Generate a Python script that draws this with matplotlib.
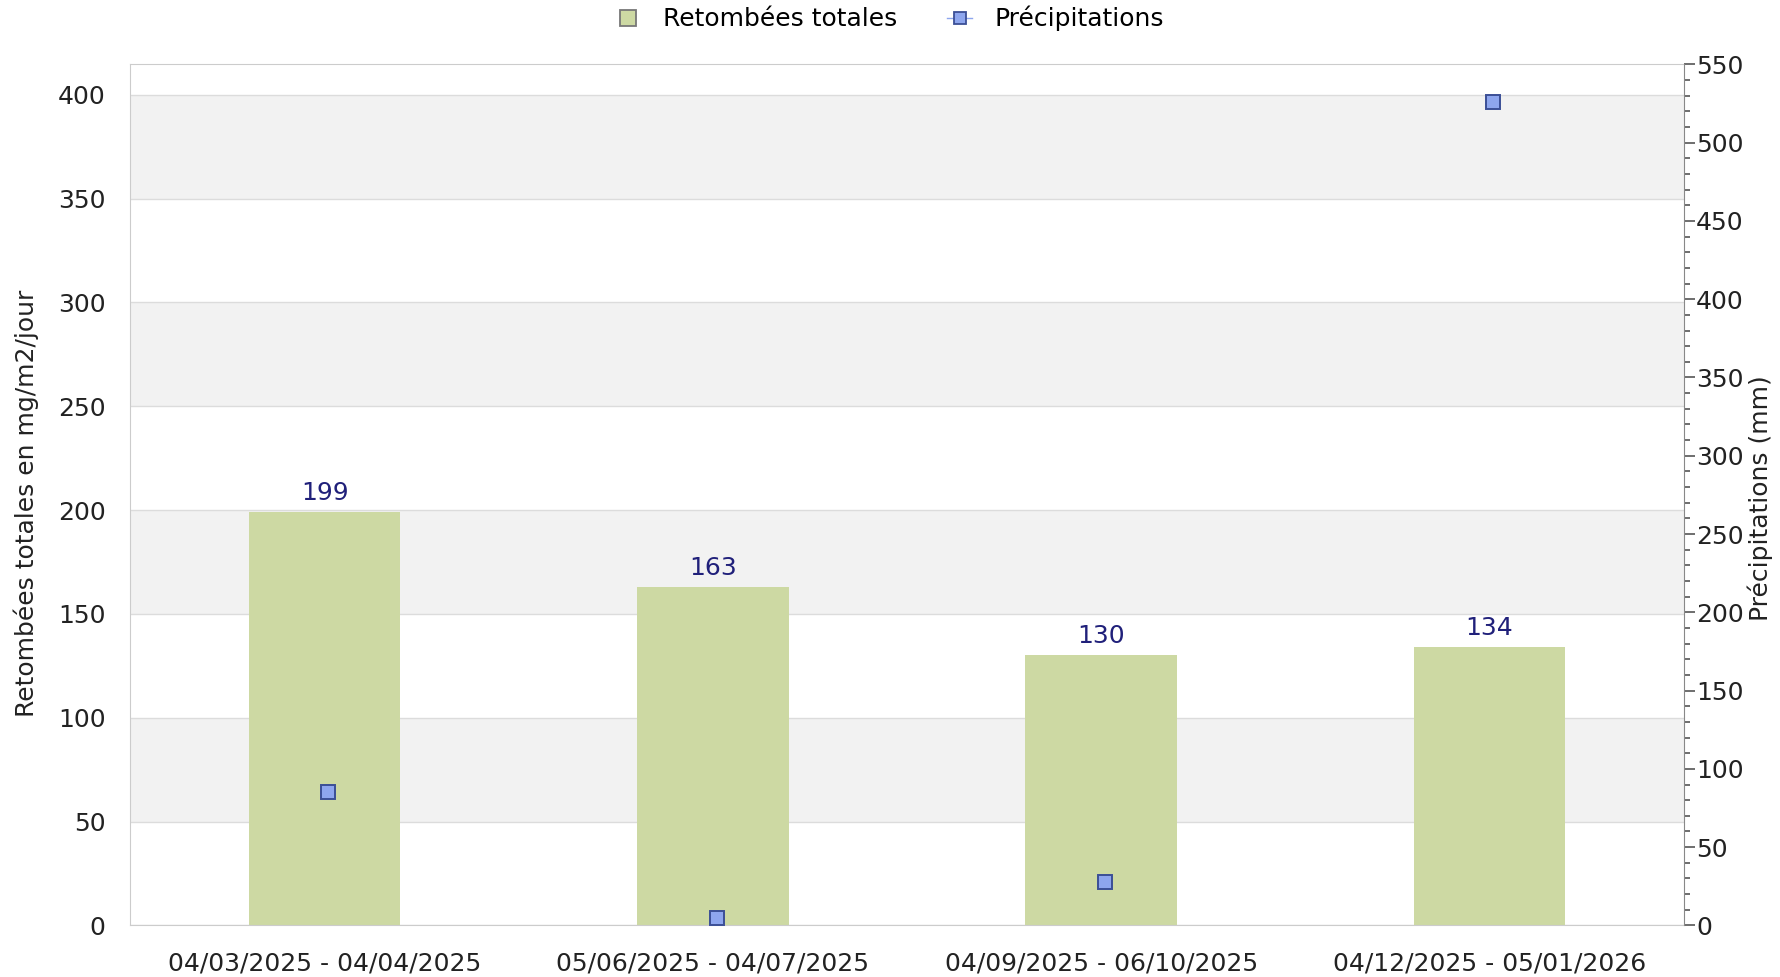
import matplotlib
matplotlib.use("Agg")
import matplotlib.pyplot as plt
from matplotlib.lines import Line2D
from matplotlib.ticker import MultipleLocator

categories = ["04/03/2025 - 04/04/2025", "05/06/2025 - 04/07/2025",
              "04/09/2025 - 06/10/2025", "04/12/2025 - 05/01/2026"]
retombees = [199, 163, 130, 134]
precipitations = [85, 4.5, 27.5, 526]
left_ticks = [0, 50, 100, 150, 200, 250, 300, 350, 400]
right_ticks = [0, 50, 100, 150, 200, 250, 300, 350, 400, 450, 500, 550]

plt.rcParams['font.family'] = ['DejaVu Sans']
FS = 18

fig = plt.figure(figsize=(17.8, 9.77), dpi=100)
ax = fig.add_axes([0.0733, 0.0528, 0.8725, 0.8813])
ax2 = ax.twinx()

# bands and grid
for lo in [50, 150, 250, 350]:
    ax.axhspan(lo, lo + 50, color='#f2f2f2', zorder=0, lw=0)
for t in left_ticks:
    ax.axhline(t, color='#dcdcdc', lw=1, zorder=0.5)

x = list(range(len(categories)))
bars = ax.bar(x, retombees, width=0.39, color='#cdd9a3', zorder=2)
ax.bar_label(bars, labels=[str(v) for v in retombees], padding=5,
             color='#20207a', fontsize=FS)

ax.set_xlim(-0.5, len(categories) - 0.5)
ax.set_ylim(0, 414.6)
ax.set_yticks(left_ticks)
ax.set_xticks(x)
ax.set_xticklabels(categories, fontsize=FS, color='#222222')
ax.tick_params(axis='y', length=0, labelsize=FS, labelcolor='#222222', pad=18)
ax.tick_params(axis='x', length=0, pad=19)
ax.set_ylabel("Retombées totales en mg/m2/jour", fontsize=FS, color='#222222')
ax.yaxis.set_label_coords(-0.0592, 0.49)
for s in ['left', 'top', 'bottom']:
    ax.spines[s].set_color('#cccccc')
ax.spines['right'].set_visible(False)

ax2.plot([xi + 0.01 for xi in x], precipitations, linestyle='none', marker='s',
         markersize=10, markerfacecolor='#8ea6ee', markeredgecolor='#3b4f96',
         markeredgewidth=1.4, zorder=5)
ax2.set_ylim(0, 550)
ax2.set_yticks(right_ticks)
ax2.yaxis.set_minor_locator(MultipleLocator(10))
ax2.tick_params(axis='y', which='major', length=8, width=1.2, color='#555555',
                labelsize=FS, labelcolor='#222222', pad=1)
ax2.tick_params(axis='y', which='minor', length=4, width=1.2, color='#555555')
for s in ['left', 'top', 'bottom']:
    ax2.spines[s].set_visible(False)
ax2.spines['right'].set_color('#888888')
ax2.set_ylabel("Précipitations (mm)", fontsize=FS, color='#222222')
ax2.yaxis.set_label_coords(1.0415, 0.496)
ax.set_zorder(ax2.get_zorder() - 1)
ax.patch.set_visible(True)
ax2.patch.set_visible(False)

handles = [
    Line2D([0], [0], linestyle='none', marker='s', markersize=12,
           markerfacecolor='#cdd9a3', markeredgecolor='#777777', markeredgewidth=1.3),
    Line2D([0], [0], linestyle='-', color='#8ea6ee', lw=1, marker='s', markersize=9,
           markerfacecolor='#8ea6ee', markeredgecolor='#3b4f96', markeredgewidth=1.3),
]
fig.legend(handles, ["Retombées totales", "Précipitations"], loc='center',
           bbox_to_anchor=(0.5, 0.981), ncol=2, frameon=False, fontsize=FS,
           handlelength=1.0, columnspacing=2.0, handletextpad=0.9)

fig.savefig("out.png", dpi=100)
